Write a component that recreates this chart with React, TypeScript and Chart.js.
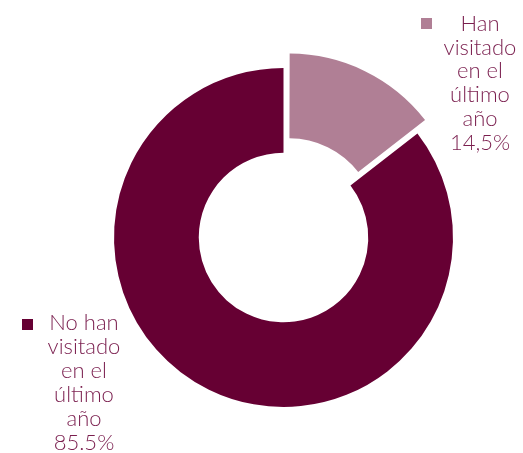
import React, { useEffect, useRef } from "react";
import { Chart, registerables } from "chart.js";

Chart.register(...registerables);

const categories = ["Han visitado en el último año", "No han visitado en el último año"];
const labelLines = [
  ["Han", "visitado", "en el", "último", "año", "14,5%"],
  ["No han", "visitado", "en el", "último", "año", "85.5%"],
];
const values = [14.5, 85.5];
const colors = ["#b07f95", "#660033"];
const offsets = [52, 0];

const labelPlugin = {
  id: "sideLabels",
  afterDraw(chart: any) {
    const ctx = chart.ctx;
    const spots = [
      { cx: 480, y0: 31, lh: 23.7, mx: 421, my: 18 },
      { cx: 84, y0: 330, lh: 24, mx: 22, my: 319 },
    ];
    ctx.save();
    ctx.font = "300 22px Lato";
    ctx.textAlign = "center";
    ctx.textBaseline = "alphabetic";
    labelLines.forEach((lines, i) => {
      const s = spots[i];
      ctx.fillStyle = colors[i];
      ctx.fillRect(s.mx, s.my, 11, 11);
      ctx.fillStyle = "#7a1e4e";
      lines.forEach((t, j) => ctx.fillText(t, s.cx, s.y0 + j * s.lh));
    });
    ctx.restore();
  },
};

export default function App() {
  const ref = useRef<HTMLCanvasElement>(null);
  useEffect(() => {
    const chart = new Chart(ref.current!, {
      type: "doughnut",
      data: {
        labels: categories,
        datasets: [
          {
            data: values,
            backgroundColor: colors,
            borderWidth: 0,
            offset: offsets,
            hoverOffset: 0,
          },
        ],
      },
      options: {
        animation: false,
        responsive: false,
        cutout: "50%",
        layout: { padding: { left: 88, top: 42, right: 44, bottom: 20 } },
        plugins: { legend: { display: false }, tooltip: { enabled: false } },
      },
      plugins: [labelPlugin],
    });
    return () => chart.destroy();
  }, []);
  return (
    <div style={{ position: "absolute", left: 0, top: 0, width: 523, height: 453 }}>
      <canvas ref={ref} width={523} height={453} />
    </div>
  );
}
